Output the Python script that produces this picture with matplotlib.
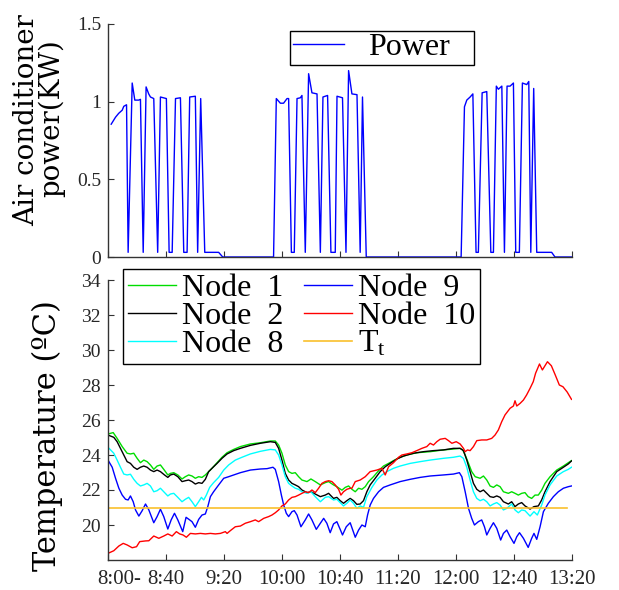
import matplotlib
matplotlib.use("Agg")
import matplotlib.pyplot as plt
import matplotlib.transforms as mtransforms
from matplotlib.font_manager import FontProperties

plt.rcParams['mathtext.fontset'] = 'custom'
plt.rcParams['mathtext.rm'] = 'Liberation Serif'
plt.rcParams['mathtext.it'] = 'Liberation Serif'

# ---------------- data ----------------
tick_minutes = [0, 40, 80, 120, 160, 200, 240, 280, 320]
tick_labels = ['8:00-', '8:40', '9:20', '10:00', '10:40', '11:20', '12:00', '12:40', '13:20']

power_time = [2.2, 5.2, 7.4, 9.8, 10.9, 12.8, 13.9, 16.7, 18.5, 21.2, 22.4, 24.3, 26.3, 28.1, 29.3,
              31.6, 34.3, 36.2, 40.3, 42.2, 44.3, 46.6, 50.0, 52.3, 54.6, 56.4, 60.3, 61.9, 64.0, 66.8,
              76.4, 79.2, 114.3, 116.2, 119.0, 121.2, 123.6, 124.7, 126.6, 128.6, 130.5, 132.8, 133.9,
              136.2, 138.5, 140.8, 144.3, 146.6, 148.4, 151.6, 153.9, 156.9, 158.1, 161.9, 164.3, 166.1,
              168.4, 171.9, 174.1, 175.7, 178.3, 243.8, 246.1, 247.7, 250.0, 251.9, 254.1, 255.7, 258.3,
              261.5, 264.3, 266.1, 268.1, 269.5, 271.9, 273.7, 275.5, 277.6, 279.9, 281.5, 284.0, 286.1,
              289.1, 290.5, 291.9, 293.9, 296.0, 306.3, 308.6, 320.0]
power_kw = [0.855, 0.90, 0.925, 0.945, 0.97, 0.98, 0.03, 1.12, 1.01, 1.01, 1.015, 0.03, 1.095, 1.05, 1.03,
            1.02, 0.03, 1.03, 1.02, 0.03, 0.03, 1.02, 1.025, 0.03, 0.03, 1.03, 1.035, 0.03, 1.02, 0.03,
            0.03, 0.0, 0.0, 1.02, 0.99, 0.99, 1.02, 1.02, 0.03, 0.03, 1.02, 1.025, 1.04,
            0.03, 1.18, 1.057, 1.05, 0.03, 1.03, 1.04, 0.03, 0.03, 1.035, 1.025, 0.03, 1.2,
            1.05, 1.045, 0.03, 1.03, 0.0, 0.0, 0.967, 1.01, 1.03, 1.05, 0.03, 0.03, 1.057,
            1.065, 0.03, 0.03, 1.1, 1.08, 1.1, 0.03, 1.1, 1.1, 1.12, 0.03, 0.03, 1.12,
            1.11, 1.13, 0.03, 1.085, 0.03, 0.03, 0.0, 0.0]

node1_time = [0, 3.6, 6.3, 9.8, 13.2, 15.5, 17.8, 20.1, 22.4, 24.7, 27.0, 29.3, 31.6, 33.9, 36.2,
              38.5, 41.3, 43.1, 45.4, 48.2, 51.1, 53.4, 55.7, 58.0, 60.3, 62.6, 64.9, 67.2, 69.5, 71.8,
              75.3, 78.7, 82.2, 86.8, 91.4, 98.3, 105.2, 112.1, 115.5, 117.8, 120.1, 122.4, 124.7, 127.0,
              129.3, 131.6, 133.9, 137.4, 140.1, 143.1, 146.6, 150.0, 152.3, 155.7, 158.0, 161.5, 163.8,
              166.1, 168.4, 170.7, 173.0, 175.3, 177.6, 179.9, 183.3, 186.8, 190.2, 193.7, 197.1, 201.7,
              206.3, 213.2, 222.4, 231.6, 238.5, 243.1, 244.9, 246.6, 248.9, 251.1, 253.5, 256.9, 259.2,
              261.5, 263.8, 266.1, 268.4, 270.7, 273.0, 276.4, 278.7, 281.0, 283.3, 285.6, 287.9, 290.1,
              292.5, 294.8, 297.1, 299.4, 301.7, 305.2, 309.8, 314.4, 317.8, 320.0]
node1_temp = [25.20, 25.28, 24.95, 24.48, 24.10, 24.06, 24.10, 23.81, 23.56, 23.71, 23.62, 23.43, 23.18,
              23.37, 23.43, 23.18, 22.86, 22.95, 22.99, 22.86, 22.63, 22.76, 22.86, 22.80, 22.67, 22.76,
              22.72, 22.86, 23.05, 23.24, 23.56, 23.87, 24.13, 24.32, 24.48, 24.63, 24.70, 24.80, 24.80,
              24.57, 24.10, 23.43, 23.05, 22.95, 22.99, 22.76, 22.57, 22.48, 22.63, 22.48, 22.29, 22.42,
              22.48, 22.29, 22.19, 21.99, 22.15, 22.23, 22.04, 21.90, 22.10, 22.04, 22.19, 22.48, 22.76,
              23.10, 23.37, 23.52, 23.68, 23.87, 24.00, 24.13, 24.19, 24.29, 24.34, 24.38, 24.29, 24.00,
              23.52, 23.05, 22.76, 22.67, 22.80, 22.57, 22.23, 22.15, 22.29, 22.19, 21.90, 21.81, 21.90,
              21.81, 21.71, 21.81, 21.85, 21.62, 21.52, 21.71, 21.71, 21.99, 22.38, 22.76, 23.14, 23.37,
              23.56, 23.68]

node2_time = [0, 4.0, 6.3, 8.6, 10.9, 13.2, 15.5, 17.8, 20.1, 22.4, 24.7, 27.0, 29.3, 31.6, 33.9, 36.2,
              39.0, 41.3, 43.1, 45.4, 48.2, 51.1, 53.4, 55.7, 58.0, 60.3, 62.6, 64.9, 67.2, 69.5, 71.8,
              75.3, 78.7, 82.2, 86.8, 91.4, 98.3, 105.2, 112.1, 115.5, 117.8, 120.1, 122.4, 124.7, 127.0,
              129.3, 131.6, 133.9, 137.4, 140.1, 143.1, 146.6, 150.0, 152.3, 155.7, 158.0, 160.3, 162.6,
              164.9, 167.2, 169.5, 171.8, 174.1, 176.4, 178.7, 181.0, 184.5, 187.9, 191.4, 194.8, 199.4,
              204.0, 210.9, 217.8, 224.7, 231.6, 238.5, 243.1, 245.4, 247.7, 250.0, 252.3, 254.6, 256.9,
              259.2, 261.5, 263.8, 266.1, 268.4, 270.7, 273.0, 276.4, 278.7, 281.0, 283.3, 285.6, 287.9,
              291.4, 294.1, 297.1, 299.4, 301.7, 305.2, 309.8, 314.4, 317.8, 320.0]
node2_temp = [25.14, 25.01, 24.76, 24.38, 24.00, 23.62, 23.52, 23.30, 23.18, 23.30, 23.37, 23.30, 23.14,
              23.05, 23.14, 23.05, 22.86, 22.72, 22.86, 22.91, 22.76, 22.48, 22.53, 22.57, 22.48, 22.34,
              22.42, 22.38, 22.61, 23.05, 23.24, 23.52, 23.81, 24.06, 24.25, 24.38, 24.55, 24.67, 24.76,
              24.72, 24.38, 23.71, 22.95, 22.57, 22.38, 22.29, 22.19, 22.00, 21.85, 21.90, 21.77, 21.62,
              21.71, 21.81, 21.52, 21.58, 21.39, 21.24, 21.39, 21.52, 21.39, 21.18, 21.20, 21.39, 21.90,
              22.29, 22.67, 23.05, 23.33, 23.52, 23.77, 23.94, 24.10, 24.19, 24.25, 24.29, 24.38, 24.38,
              24.25, 23.71, 23.05, 22.38, 22.04, 21.90, 22.00, 21.81, 21.62, 21.58, 21.66, 21.58, 21.33,
              21.20, 21.33, 21.05, 21.20, 21.28, 21.09, 20.91, 21.05, 21.09, 21.43, 21.90, 22.48, 23.05,
              23.30, 23.49, 23.66]

node8_time = [0, 4.0, 6.3, 8.6, 10.9, 13.2, 15.5, 17.8, 20.1, 22.4, 24.7, 27.0, 29.3, 31.6, 33.9, 36.2,
              38.5, 41.3, 43.1, 45.4, 48.2, 51.1, 53.4, 55.7, 58.0, 60.3, 62.6, 64.5, 66.1, 67.9, 70.2,
              72.9, 76.4, 79.9, 83.3, 87.9, 92.5, 98.3, 105.2, 112.1, 115.5, 117.8, 120.1, 122.4, 124.7,
              127.0, 129.3, 131.6, 133.9, 137.4, 140.1, 143.1, 146.6, 150.0, 152.3, 155.7, 158.0, 160.3,
              162.6, 164.9, 167.2, 169.5, 171.8, 174.1, 176.4, 178.7, 182.2, 185.6, 189.1, 192.5, 197.1,
              201.7, 208.6, 215.5, 222.4, 231.6, 238.5, 243.1, 245.4, 247.7, 250.0, 252.3, 254.6, 256.9,
              259.2, 261.5, 263.8, 266.1, 268.4, 270.7, 273.0, 275.3, 278.7, 281.0, 283.3, 285.6, 287.9,
              291.4, 294.1, 296.4, 299.4, 301.7, 305.2, 309.8, 314.4, 317.8, 320.0]
node8_temp = [24.44, 24.10, 23.71, 23.30, 22.91, 22.86, 22.90, 22.61, 22.38, 22.23, 22.29, 22.38, 22.23,
              21.90, 21.96, 22.10, 21.90, 21.66, 21.77, 21.81, 21.58, 21.33, 21.47, 21.58, 21.33, 21.05,
              21.33, 21.58, 21.43, 21.71, 22.15, 22.42, 22.72, 23.14, 23.43, 23.71, 23.87, 24.06, 24.21,
              24.32, 24.29, 24.00, 23.43, 22.76, 22.38, 22.23, 22.10, 22.04, 21.90, 21.81, 21.90, 21.62,
              21.33, 21.58, 21.62, 21.43, 21.47, 21.28, 21.09, 21.24, 21.43, 21.24, 20.95, 21.09, 21.01,
              21.62, 22.15, 22.57, 22.86, 23.05, 23.24, 23.37, 23.52, 23.62, 23.71, 23.81, 23.87, 23.94,
              23.81, 23.30, 22.57, 21.90, 21.52, 21.39, 21.47, 21.33, 21.09, 21.20, 21.28, 21.14, 20.86,
              20.95, 21.20, 20.86, 20.70, 20.86, 20.82, 20.51, 20.76, 20.57, 21.14, 21.71, 22.29, 22.80,
              23.05, 23.18, 23.30]

node9_time = [0, 2.9, 5.2, 7.5, 9.8, 12.1, 13.9, 15.5, 17.4, 19.0, 21.3, 23.6, 25.9, 28.2, 31.6, 33.9,
              36.2, 38.5, 41.3, 43.6, 45.9, 48.2, 51.6, 53.9, 56.4, 58.0, 60.3, 62.6, 64.9, 67.2, 68.9,
              70.7, 72.9, 76.4, 79.9, 83.3, 86.8, 91.4, 98.3, 105.2, 109.8, 113.9, 115.5, 117.8, 119.7,
              121.3, 123.1, 124.7, 127.0, 128.6, 130.5, 133.2, 136.2, 138.5, 140.8, 143.8, 146.6, 148.9,
              151.1, 153.4, 155.7, 158.0, 160.3, 161.9, 164.5, 167.2, 170.7, 173.0, 175.3, 177.6, 179.2,
              181.0, 183.3, 186.8, 190.2, 194.8, 201.7, 208.6, 215.5, 222.4, 231.6, 238.5, 242.6, 244.3,
              246.6, 248.9, 251.1, 253.0, 255.7, 258.0, 259.9, 261.5, 263.8, 266.1, 268.4, 271.1, 273.0,
              275.3, 277.6, 280.3, 282.2, 284.1, 286.8, 290.1, 292.5, 294.1, 296.0, 298.3, 300.6, 304.0,
              307.5, 310.9, 314.4, 317.8, 320.0]
node9_temp = [23.71, 23.30, 22.67, 22.10, 21.71, 21.47, 21.43, 21.66, 21.33, 20.86, 20.51, 20.82, 21.20,
              20.86, 20.13, 20.48, 20.90, 20.48, 19.77, 20.29, 20.67, 20.29, 19.62, 20.44, 20.29, 20.19,
              19.87, 20.32, 20.57, 20.63, 21.05, 21.62, 21.90, 22.29, 22.67, 22.76, 22.86, 22.99, 23.14,
              23.20, 23.22, 23.30, 23.18, 22.48, 21.71, 21.14, 20.67, 20.48, 20.76, 20.82, 20.57, 19.90,
              20.29, 20.63, 20.29, 19.75, 20.10, 20.38, 20.10, 19.56, 20.06, 20.19, 19.75, 19.43, 19.90,
              20.13, 19.30, 19.71, 20.00, 19.90, 20.57, 21.14, 21.52, 21.90, 22.15, 22.29, 22.48, 22.61,
              22.72, 22.80, 22.86, 22.91, 22.99, 22.76, 21.90, 20.95, 20.38, 20.00, 20.19, 20.29, 19.90,
              19.43, 19.81, 20.13, 19.81, 19.14, 19.52, 19.71, 19.33, 18.95, 19.33, 19.56, 19.24, 18.72,
              19.24, 19.52, 19.18, 19.90, 20.76, 21.24, 21.62, 21.90, 22.10, 22.19, 22.23]

node10_time = [0, 4.0, 7.5, 10.5, 13.2, 16.7, 19.7, 21.9, 25.9, 28.2, 31.6, 35.1, 38.5, 41.3, 44.3, 47.2,
               49.5, 51.8, 54.1, 56.9, 60.3, 63.8, 67.2, 70.7, 74.1, 77.6, 81.0, 82.2, 84.5, 87.9, 91.4,
               94.8, 98.3, 101.7, 104.0, 107.5, 110.9, 113.2, 115.5, 117.8, 120.1, 122.4, 124.7, 127.0,
               129.3, 131.6, 133.9, 136.2, 138.5, 140.8, 143.1, 145.4, 147.7, 150.0, 152.3, 154.6, 156.9,
               159.2, 160.8, 162.6, 164.9, 167.2, 168.4, 170.7, 174.1, 177.6, 181.0, 185.6, 189.1, 191.4,
               193.7, 197.1, 200.6, 202.9, 206.3, 209.8, 213.2, 216.7, 220.1, 222.4, 224.7, 227.0, 229.3,
               232.8, 235.1, 237.4, 240.4, 243.1, 245.4, 246.6, 248.2, 250.0, 252.3, 254.6, 258.0, 261.5,
               264.9, 267.2, 269.5, 271.8, 274.1, 277.6, 279.9, 281.0, 282.2, 284.5, 286.8, 289.0, 291.4,
               293.6, 295.2, 297.9, 299.9, 303.4, 306.1, 308.8, 311.6, 314.1, 317.0, 320.0]
node10_temp = [18.38, 18.53, 18.80, 18.95, 18.86, 18.70, 18.76, 19.05, 19.09, 19.10, 19.37, 19.24, 19.37,
               19.49, 19.37, 19.62, 19.49, 19.43, 19.30, 19.52, 19.49, 19.52, 19.49, 19.52, 19.49, 19.52,
               19.62, 19.52, 19.68, 19.90, 19.94, 20.10, 20.19, 20.29, 20.19, 20.38, 20.48, 20.57, 20.70,
               20.86, 21.09, 21.20, 21.43, 21.58, 21.62, 21.71, 21.81, 21.90, 21.85, 22.00, 21.85, 22.10,
               22.38, 22.48, 22.53, 22.48, 22.29, 22.04, 21.71, 21.90, 22.04, 22.10, 22.10, 22.48, 22.57,
               22.76, 23.05, 23.14, 23.24, 22.86, 23.33, 23.56, 23.87, 24.00, 24.06, 24.13, 24.25, 24.38,
               24.48, 24.67, 24.57, 24.76, 24.90, 24.95, 24.82, 24.67, 24.76, 24.63, 24.38, 24.19, 24.29,
               24.25, 24.48, 24.82, 24.86, 24.86, 24.95, 25.14, 25.43, 25.90, 26.29, 26.67, 26.80, 27.10,
               26.80, 26.95, 27.14, 27.43, 27.81, 28.19, 28.67, 29.20, 28.86, 29.33, 29.10, 28.57, 28.00,
               27.90, 27.60, 27.18]

tt_time = [0, 317]
tt_temp = [21.0, 21.0]

# ---------------- styling ----------------
SERIF = 'Liberation Serif'
WIDE = 'DejaVu Serif'
SPINE = '#333333'
TICKC = '#262626'

fig = plt.figure(figsize=(6.19, 5.90), dpi=100)
W, H = 619.0, 590.0
ax1 = fig.add_axes([108 / W, 1 - 257 / H, 463.5 / W, 233 / H])
ax2 = fig.add_axes([108 / W, 1 - 560 / H, 463.5 / W, 280 / H])

for ax in (ax1, ax2):
    for s in ('top', 'right'):
        ax.spines[s].set_visible(False)
    for s in ('left', 'bottom'):
        ax.spines[s].set_color(SPINE)
        ax.spines[s].set_linewidth(1.0)
    ax.set_xlim(0, 320)
    ax.set_xticks(tick_minutes)
    ax.tick_params(direction='in', length=4, width=0.8, color=SPINE, labelcolor=TICKC)

# top panel
(pline,) = ax1.plot(power_time, power_kw, color='#0000FF', lw=1.0)
ax1.set_ylim(0, 1.5)
ax1.set_yticks([0, 0.5, 1, 1.5])
ax1.set_yticklabels(['0', '0.5', '1', '1.5'], fontfamily=SERIF, fontsize=14)
ax1.tick_params(axis='x', labelbottom=False)
ax1.tick_params(axis='y', pad=5)

leg1 = ax1.legend([pline], ['Power'], loc='upper left', mode='expand',
                  bbox_to_anchor=(182 / 463.5, 0.82, 184 / 463.5, 0.152),
                  prop=FontProperties(family=SERIF, size=23), handlelength=1.6,
                  handletextpad=0.75, borderpad=0.08, borderaxespad=0, fancybox=False,
                  edgecolor='k', framealpha=1)
leg1.get_frame().set_linewidth(1.0)

# bottom panel
l1, = ax2.plot(node1_time, node1_temp, color='#00DD00', lw=1.0)
l2, = ax2.plot(node2_time, node2_temp, color='#000000', lw=1.0)
l8, = ax2.plot(node8_time, node8_temp, color='#00FFFF', lw=1.0)
l9, = ax2.plot(node9_time, node9_temp, color='#0000FF', lw=1.0)
l10, = ax2.plot(node10_time, node10_temp, color='#FF0000', lw=1.0)
lt, = ax2.plot(tt_time, tt_temp, color='#F9C02C', lw=1.2)
ax2.set_ylim(18, 34)
ax2.set_yticks(range(20, 35, 2))
ax2.set_yticklabels([str(v) for v in range(20, 35, 2)], fontfamily=SERIF, fontsize=14)
ax2.tick_params(axis='y', pad=5)
ax2.set_xticklabels(tick_labels, fontfamily=SERIF, fontsize=15)
ax2.tick_params(axis='x', pad=7)
first = ax2.get_xticklabels()[0]
first.set_transform(first.get_transform() +
                    mtransforms.ScaledTranslation(11 / 100, 0, fig.dpi_scale_trans))

leg2 = ax2.legend([l1, l2, l8, l9, l10, lt],
                  ['Node  1', 'Node  2', 'Node  8', 'Node  9', 'Node  10', r'T$_{\mathregular{t}}$'],
                  ncol=2, loc='upper left', bbox_to_anchor=(0.032, 1.039),
                  prop=FontProperties(family=SERIF, size=23), handlelength=1.5,
                  handletextpad=0.2, columnspacing=0.65, labelspacing=-0.05, borderpad=0.15,
                  borderaxespad=0, fancybox=False, edgecolor='k', framealpha=1)
leg2.get_frame().set_linewidth(1.0)

# y labels
fig.text(27 / W, 1 - 120 / H, 'Air conditioner', rotation=90, ha='center', va='center',
         fontfamily=WIDE, fontsize=20)
fig.text(52 / W, 1 - 118 / H, 'power(KW)', rotation=90, ha='center', va='center',
         fontfamily=WIDE, fontsize=20)
fig.text(47 / W, 1 - 436 / H, 'Temperature (ºC)', rotation=90, ha='center', va='center',
         fontfamily=WIDE, fontsize=22)

fig.savefig('out.png', dpi=100)
